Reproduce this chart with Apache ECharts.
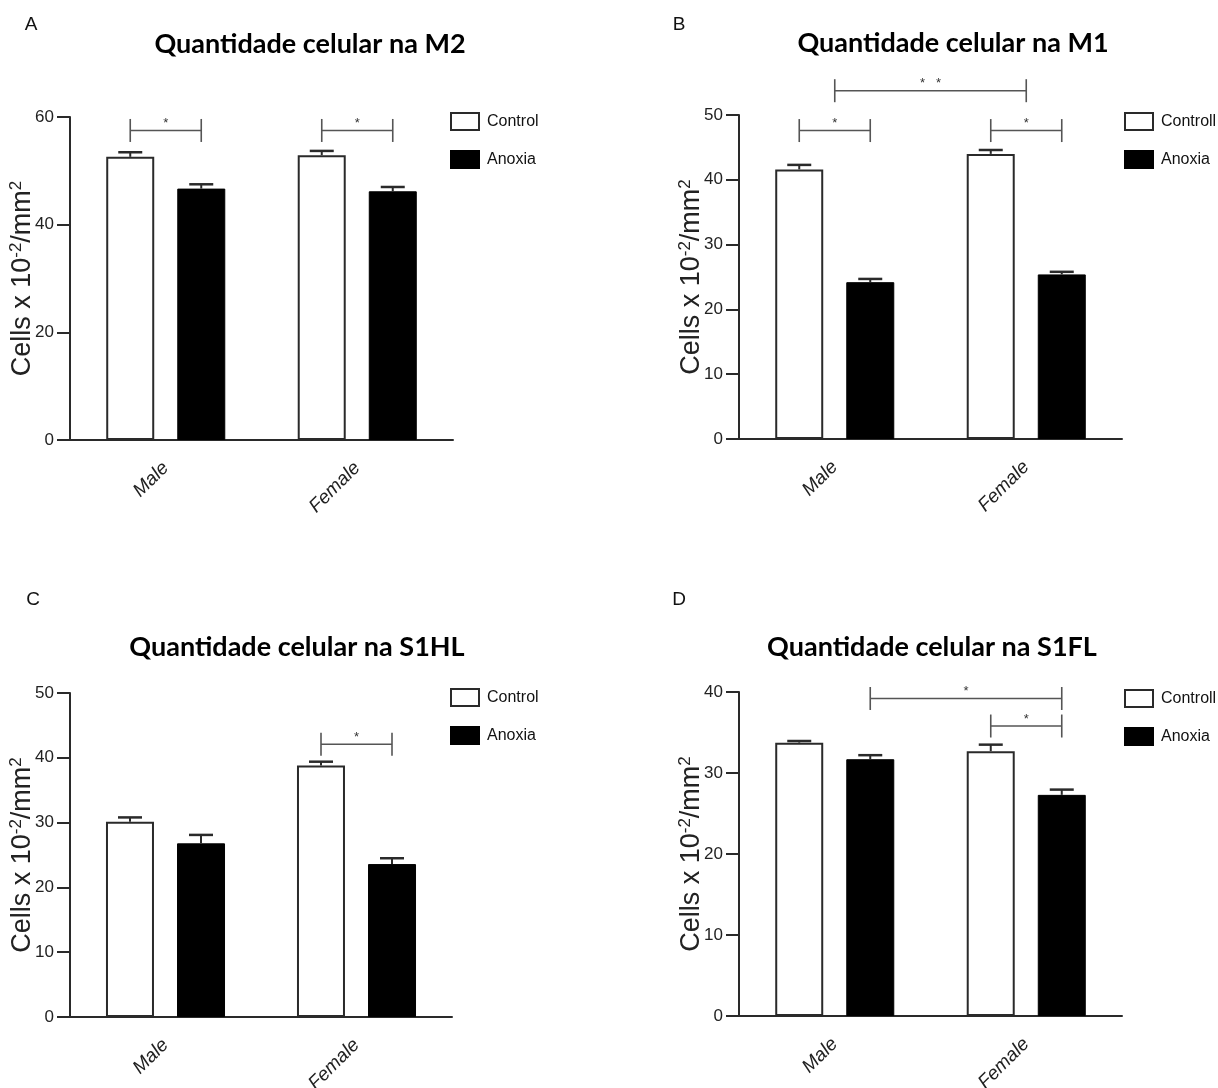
<!DOCTYPE html>
<html>
<head>
<meta charset="utf-8">
<title>Quantidade celular</title>
<script src="https://cdn.jsdelivr.net/npm/echarts@6/dist/echarts.min.js"></script>
<style>
html, body {margin:0; padding:0; background:#fff;}
#main {width:1218px; height:1088px;}
</style>
</head>
<body>
<div id="main"></div>
<script>
var groups = ['Male', 'Female'];

// M2
var m2Control = [52.6, 52.9];
var m2ControlSem = [0.85, 0.8];
var m2Anoxia = [46.7, 46.2];
var m2AnoxiaSem = [0.8, 0.8];
// M1
var m1Control = [41.6, 44.0];
var m1ControlSem = [0.7, 0.6];
var m1Anoxia = [24.2, 25.4];
var m1AnoxiaSem = [0.5, 0.4];
// S1HL
var s1hlControl = [30.15, 38.8];
var s1hlControlSem = [0.65, 0.6];
var s1hlAnoxia = [26.8, 23.6];
var s1hlAnoxiaSem = [1.3, 0.9];
// S1FL
var s1flControl = [33.75, 32.7];
var s1flControlSem = [0.2, 0.8];
var s1flAnoxia = [31.7, 27.3];
var s1flAnoxiaSem = [0.5, 0.65];

// brackets: from group, from bar, to group, to bar, level, label
// bar: -1 control, 0 middle of group, 1 anoxia
var m2Sig = [[0, -1, 0, 1, 57.5, '*'], [1, -1, 1, 1, 57.5, '*']];
var m1Sig = [[0, -1, 0, 1, 47.6, '*'], [1, -1, 1, 1, 47.6, '*'], [0, 0, 1, 0, 53.75, '*   *']];
var s1hlSig = [[1, -1, 1, 1, 42.1, '*']];
var s1flSig = [[0, 1, 1, 1, 39.2, '*'], [1, -1, 1, 1, 35.8, '*']];

var titles = ['Quantidade celular na M2', 'Quantidade celular na M1',
              'Quantidade celular na S1HL', 'Quantidade celular na S1FL'];
var letters = ['A', 'B', 'C', 'D'];
var controlNames = ['Control', 'Controll', 'Control', 'Controll'];
var yMax = [60, 50, 50, 40];
var yStep = [20, 10, 10, 10];

var panels = [
  {c: m2Control, cs: m2ControlSem, a: m2Anoxia, as: m2AnoxiaSem, sig: m2Sig},
  {c: m1Control, cs: m1ControlSem, a: m1Anoxia, as: m1AnoxiaSem, sig: m1Sig},
  {c: s1hlControl, cs: s1hlControlSem, a: s1hlAnoxia, as: s1hlAnoxiaSem, sig: s1hlSig},
  {c: s1flControl, cs: s1flControlSem, a: s1flAnoxia, as: s1flAnoxiaSem, sig: s1flSig}
];

// layout
var grids = [
  {left: 70, top: 117, width: 383, height: 323},
  {left: 739, top: 115, width: 383, height: 324},
  {left: 70, top: 693, width: 382, height: 324},
  {left: 739, top: 692, width: 383, height: 324}
];
var titlePos = [[310, 44], [953, 43], [297, 647], [932, 647]];
var letterPos = [[31, 25], [679, 25], [33, 600], [679, 600]];
var legendPos = [[450, 112], [1124, 112], [450, 688], [1124, 689]];

var BAR_W = 48;
var BAR_OFF = 35.5; // half of bar width + gap
var sans = "'Liberation Sans', Arial, sans-serif";
var ink = '#2a2a2a';

function renderErr(params, api) {
  var base = api.coord([api.value(0), api.value(1)]);
  var top = api.coord([api.value(0), api.value(1) + api.value(2)]);
  var x = base[0] + api.value(3) * BAR_OFF;
  return {
    type: 'group',
    children: [
      {type: 'line', shape: {x1: x, y1: base[1], x2: x, y2: top[1]}, style: {stroke: ink, lineWidth: 2}},
      {type: 'line', shape: {x1: x - 12, y1: top[1], x2: x + 12, y2: top[1]}, style: {stroke: ink, lineWidth: 2.5}}
    ]
  };
}

function renderSig(params, api) {
  var p1 = api.coord([api.value(0), api.value(4)]);
  var p2 = api.coord([api.value(2), api.value(4)]);
  var x1 = p1[0] + api.value(1) * BAR_OFF;
  var x2 = p2[0] + api.value(3) * BAR_OFF;
  var y = p1[1];
  var st = {stroke: '#555', lineWidth: 1.6};
  return {
    type: 'group',
    children: [
      {type: 'line', shape: {x1: x1, y1: y, x2: x2, y2: y}, style: st},
      {type: 'line', shape: {x1: x1, y1: y - 11.5, x2: x1, y2: y + 11.5}, style: st},
      {type: 'line', shape: {x1: x2, y1: y - 11.5, x2: x2, y2: y + 11.5}, style: st},
      {type: 'text', x: (x1 + x2) / 2, y: y - 7,
       style: {text: api.value(5), fill: '#333', font: '13px Liberation Sans',
               textAlign: 'center', verticalAlign: 'middle', textVerticalAlign: 'middle'}}
    ]
  };
}

var option = {
  backgroundColor: '#FFFFFF',
  animation: false,
  grid: [],
  xAxis: [],
  yAxis: [],
  legend: [],
  graphic: [],
  series: []
};

panels.forEach(function (p, i) {
  var g = grids[i];
  option.grid.push({left: g.left, top: g.top, width: g.width, height: g.height,
                    outerBoundsMode: 'none', containLabel: false});
  option.xAxis.push({
    type: 'category',
    gridIndex: i,
    data: groups,
    axisLine: {lineStyle: {color: ink, width: 2}},
    axisTick: {alignWithLabel: true, length: 10, lineStyle: {color: ink, width: 2}},
    axisLabel: {rotate: 45, margin: 25, color: '#222', fontSize: 19, fontStyle: 'italic',
                fontFamily: sans}
  });
  option.yAxis.push({
    type: 'value',
    gridIndex: i,
    min: 0,
    max: yMax[i],
    interval: yStep[i],
    splitLine: {show: false},
    axisLine: {show: true, lineStyle: {color: ink, width: 2}},
    axisTick: {show: true, length: 13, lineStyle: {color: ink, width: 2}},
    axisLabel: {color: '#222', fontSize: 17, fontFamily: sans, margin: 16},
    name: 'Cells x 10{sup|-2}/mm{sup|2}',
    nameLocation: 'middle',
    nameRotate: 90,
    nameGap: 32,
    nameMoveOverlap: false,
    nameTextStyle: {
      color: '#222', fontSize: 27, fontFamily: sans, lineHeight: 30,
      rich: {sup: {fontSize: 17, fontFamily: sans, verticalAlign: 'top', lineHeight: 16}}
    }
  });
  option.legend.push({
    data: [controlNames[i], 'Anoxia'],
    orient: 'vertical',
    left: legendPos[i][0],
    top: legendPos[i][1],
    padding: 0,
    itemWidth: 28,
    itemHeight: 17,
    itemGap: 19,
    icon: 'rect',
    selectedMode: false,
    textStyle: {fontFamily: sans, fontSize: 16, color: '#111', padding: [0, 0, 0, 3]}
  });
  option.graphic.push({
    type: 'text', x: titlePos[i][0], y: titlePos[i][1],
    style: {text: titles[i], font: 'bold 27px Lato', fill: '#000',
            textAlign: 'center', verticalAlign: 'middle', textVerticalAlign: 'middle'}
  });
  option.graphic.push({
    type: 'text', x: letterPos[i][0], y: letterPos[i][1],
    style: {text: letters[i], font: '19px ' + sans, fill: '#111',
            textAlign: 'center', verticalAlign: 'middle', textVerticalAlign: 'middle'}
  });

  option.series.push({
    name: controlNames[i],
    type: 'bar',
    xAxisIndex: i, yAxisIndex: i,
    data: p.c,
    barWidth: BAR_W,
    barGap: '48%',
    itemStyle: {color: '#fff', borderColor: ink, borderWidth: 2}
  });
  option.series.push({
    name: 'Anoxia',
    type: 'bar',
    xAxisIndex: i, yAxisIndex: i,
    data: p.a,
    barWidth: BAR_W,
    barGap: '48%',
    itemStyle: {color: '#000', borderColor: '#000', borderWidth: 1}
  });

  var errData = [];
  groups.forEach(function (name, k) {
    errData.push([k, p.c[k], p.cs[k], -1]);
    errData.push([k, p.a[k], p.as[k], 1]);
  });
  option.series.push({
    type: 'custom',
    xAxisIndex: i, yAxisIndex: i,
    renderItem: renderErr,
    encode: {x: 0, y: 1},
    data: errData,
    z: 5
  });
  option.series.push({
    type: 'custom',
    xAxisIndex: i, yAxisIndex: i,
    renderItem: renderSig,
    encode: {x: 0, y: 4},
    data: p.sig,
    clip: false,
    z: 5
  });
});

var chart = echarts.init(document.getElementById('main'));
chart.setOption(option);
</script>
</body>
</html>
